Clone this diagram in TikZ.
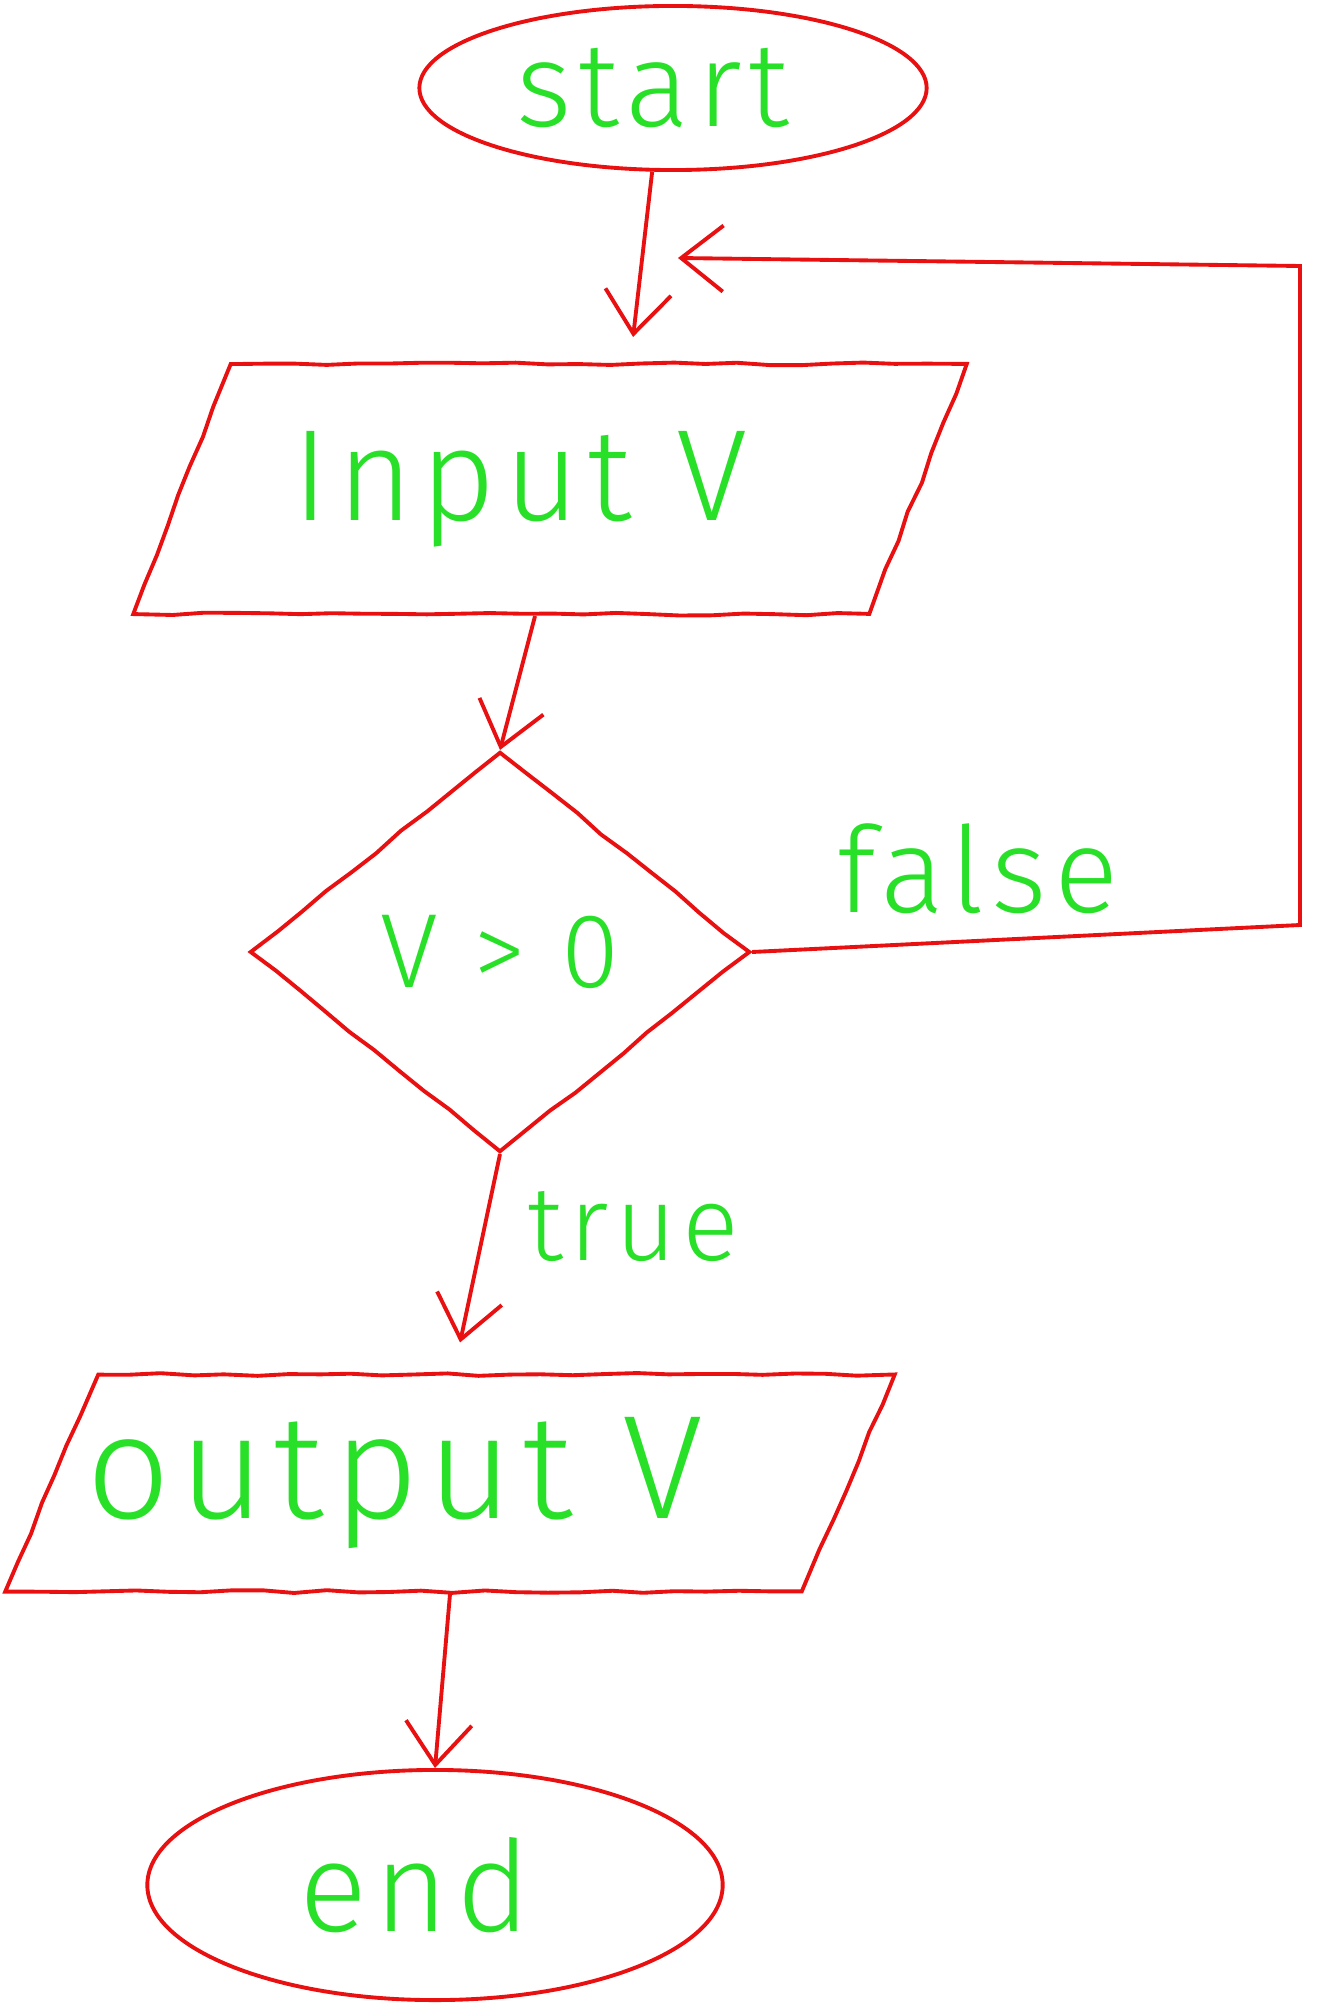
\documentclass[tikz,border=0pt]{standalone}
\usepackage{fontspec}
\newfontfamily\handfont{Fira Sans}[UprightFont=* Light, LetterSpace=6]
\usepackage{xcolor}
\usetikzlibrary{arrows.meta, shapes.geometric, decorations.pathmorphing}
\definecolor{penred}{RGB}{232,16,16}
\definecolor{pengreen}{RGB}{40,224,40}
\tikzset{
  wobble/.style={decorate, decoration={random steps, segment length=9pt, amplitude=0.4pt}},
  outline/.style={draw=penred, line width=1.1pt},
  flowarrow/.style={penred, line width=1.1pt, -{Straight Barb[length=4.2mm, width=6.6mm]}},
  txt/.style={text=pengreen, font=\handfont\fontsize{#1}{#1}\selectfont},
}
\begin{document}
\begin{tikzpicture}[x=0.01cm, y=-0.01cm]
    \pgfmathsetseed{7}
    \useasboundingbox (0,0) rectangle (1318,2004);
    % Terminals and boxes
    \node[outline, ellipse, minimum width=5.07cm, minimum height=1.64cm, txt=34] (start) at (673,88) {\hspace*{-0.4cm}start};
    \node[outline, wobble, trapezium, trapezium left angle=55, trapezium right angle=125,
      trapezium stretches body, minimum width=8.33cm, minimum height=2.5cm, txt=37] (in) at (550,489) {\hspace*{-0.6cm}Input V};
    \node[outline, wobble, diamond, minimum width=5cm, minimum height=4cm, inner sep=0pt, txt=30] (dec) at (500,952) {V > 0};
    \node[outline, wobble, trapezium, trapezium left angle=59, trapezium right angle=121,
      trapezium stretches body, minimum width=8.89cm, minimum height=2.17cm, txt=42] (out) at (450,1483) {\hspace*{-1.1cm}output V};
    \node[outline, ellipse, minimum width=5.75cm, minimum height=2.3cm, txt=36] (end) at (435,1885) {\hspace*{-0.4cm}end};
    % Loop back corners
    \coordinate (loopR) at (1300,925);
    \coordinate (loopT) at (1300,266);
    \coordinate (loopEnd) at (678,258);
    % Connectors
    \draw[flowarrow] (start.256) -- ([xshift=0.83cm, yshift=0.25cm]in.north);
    \draw[flowarrow] ([xshift=-0.15cm]in.south) -- (dec.north);
    \draw[flowarrow] (dec.south) -- ([xshift=0.1cm, yshift=0.3cm]out.north);
    \draw[flowarrow] (out.south) -- (end.north);
    \draw[flowarrow] (dec.east) -- (loopR) -- (loopT) -- (loopEnd);
    % Branch labels
    \node[txt=34] (falseLbl) at (978,869) {false};
    \node[txt=30] (trueLbl) at (633,1227) {true};
\end{tikzpicture}
\end{document}
